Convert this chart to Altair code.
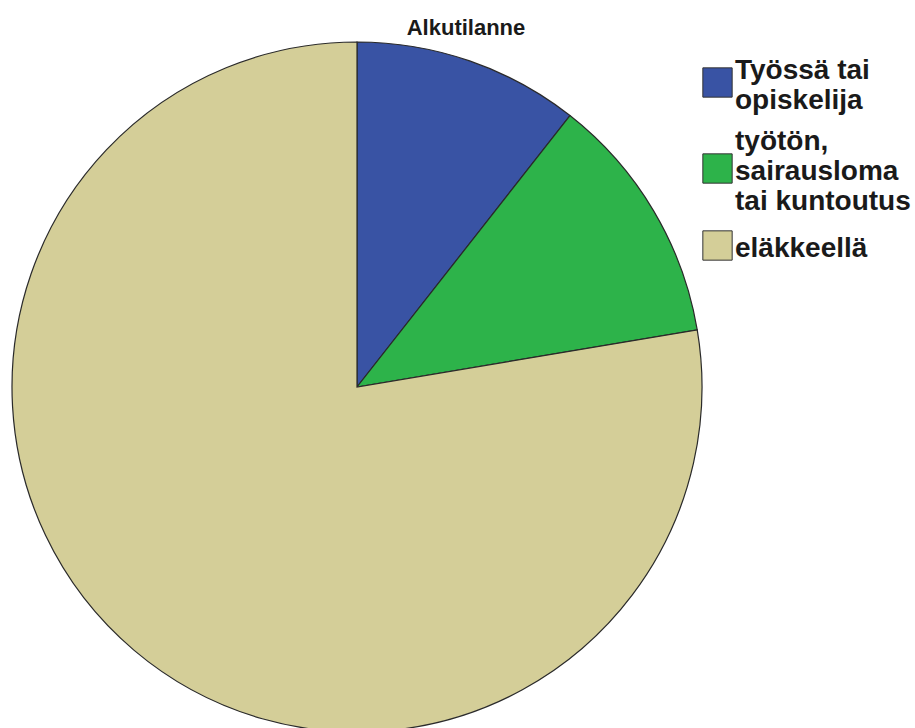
import altair as alt
import pandas as pd

categories = ["Työssä tai\nopiskelija", "työtön,\nsairausloma\ntai kuntoutus", "eläkkeellä"]
counts = [9, 10, 66]
colors = ["#3953a4", "#2db34a", "#d4ce98"]
title_text = "Alkutilanne"

df = pd.DataFrame({"cat": categories, "count": counts, "idx": list(range(len(categories)))})

arc = alt.Chart(df).mark_arc(radius=345, stroke="#2a2a2a", strokeWidth=1.2).encode(
    theta=alt.Theta("count:Q", stack=True),
    color=alt.Color(
        "cat:N",
        scale=alt.Scale(domain=categories, range=colors),
        sort=categories,
        legend=alt.Legend(
            title=None,
            orient="none",
            legendX=702,
            legendY=67,
            symbolType="square",
            symbolSize=860,
            symbolStrokeColor="#333333",
            symbolStrokeWidth=1,
            labelFont="Liberation Sans",
            labelFontSize=28,
            labelFontWeight="bold",
            labelColor="#1a1a1a",
            labelLimit=400,
            labelOffset=2,
            rowPadding=12,
            labelExpr="split(datum.label, '\\n')",
        ),
    ),
    order=alt.Order("idx:Q"),
    x=alt.value(357),
    y=alt.value(387),
)

title = alt.Chart(pd.DataFrame({"t": [title_text]})).mark_text(
    font="Liberation Sans", fontSize=22, fontWeight="bold", color="#1a1a1a", align="center", baseline="alphabetic"
).encode(x=alt.value(466), y=alt.value(35), text="t:N")

chart = alt.layer(arc, title).properties(
    width=915, height=728, padding=0, autosize=alt.AutoSizeParams(type="none")
).configure(
    view={"stroke": None},
    style={
        "guide-label": {
            "lineHeight": 30,
            "dy": {"expr": "3 - (length(split(datum.label, '\\n')) - 1) * 15"},
        }
    },
)

chart.save("out.html", embed_options={"renderer": "svg", "actions": False})
